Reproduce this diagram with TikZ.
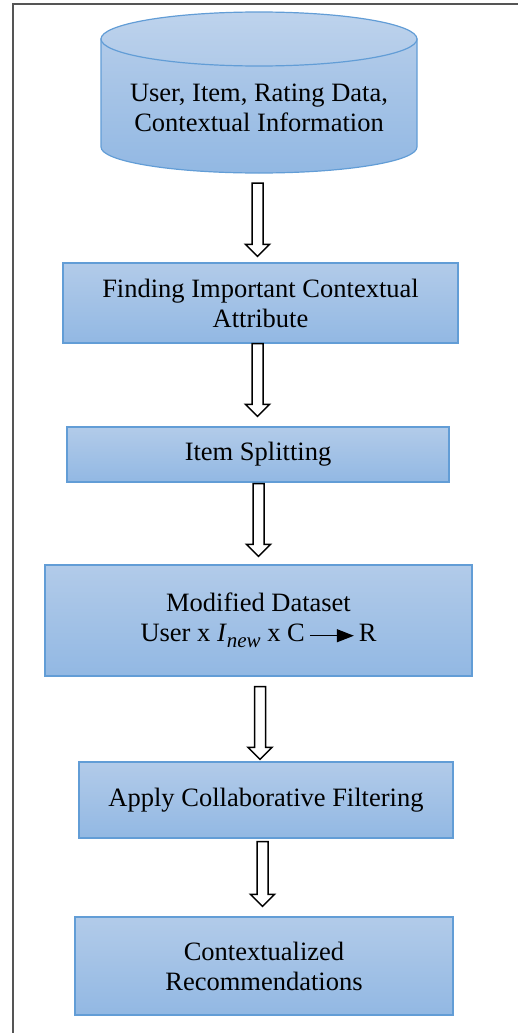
\documentclass[tikz,border=0pt]{standalone}
\usepackage{fontspec}
\setmainfont{Liberation Serif}
\usetikzlibrary{calc,arrows.meta}
\definecolor{bordercol}{RGB}{98,157,214}
\definecolor{filltop}{RGB}{178,203,233}
\definecolor{fillbot}{RGB}{146,184,227}
\definecolor{framecol}{RGB}{85,85,85}
\tikzset{
  proc/.style={draw=bordercol, line width=1.2pt, top color=filltop, bottom color=fillbot,
    align=center, inner sep=0pt, font=\fontsize{26.5}{30}\selectfont},
  blockarr/.style={draw=black, line width=1.5pt, fill=white, line join=miter},
  labeltext/.style={align=center, inner sep=0pt, font=\fontsize{26.5}{30}\selectfont}
}
\newcommand{\blockarrow}[2]{%
  \draw[blockarr] let \p1=(#1), \p2=(#2) in
    (\x1-5.5pt,\y1) -- (\x1+5.5pt,\y1) -- (\x1+5.5pt,\y2+12pt) -- (\x1+12pt,\y2+12pt)
    -- (\x1,\y2) -- (\x1-12pt,\y2+12pt) -- (\x1-5.5pt,\y2+12pt) -- cycle;}
\begin{document}
\begin{tikzpicture}[x=1pt,y=1pt]
\useasboundingbox (0,0) rectangle (518,-1033);
% frame
\draw[framecol, line width=2pt] (13,-1040) -- (13,-4) -- (525,-4);
% cylinder
\draw[bordercol, line width=1.2pt, top color=filltop, bottom color=fillbot]
  (101,-39) -- (101,-147) arc[start angle=180, end angle=360, x radius=158, y radius=26]
  -- (417,-39) -- cycle;
\draw[bordercol, line width=1.2pt, top color=filltop!85!white, bottom color=filltop!95!fillbot]
  (259,-39) ellipse[x radius=158, y radius=27];
\node[labeltext] (db) at (259,-108) {User, Item, Rating Data,\\Contextual Information};
\coordinate (dbbot) at (259,-173);
% process boxes
\node[proc, minimum width=395pt, minimum height=80pt] (n2) at (260.5,-303)
  {Finding Important Contextual\\Attribute};
\node[proc, minimum width=382pt, minimum height=55pt] (n3) at (258,-454.5) {Item Splitting};
\node[proc, minimum width=427pt, minimum height=111pt] (n4) at (258.5,-620.5)
  {Modified Dataset\\User x \textit{I\kern1pt}\raisebox{-6pt}{\fontsize{21}{21}\selectfont\itshape new} x C\,\tikz[baseline=-6pt]\draw[line width=1.1pt,-{Triangle[length=17pt,width=13pt]}] (0pt,0pt) -- (44pt,0pt);\,R};
\node[proc, minimum width=374pt, minimum height=76pt] (n5) at (266,-800) {Apply Collaborative Filtering};
\node[proc, minimum width=378pt, minimum height=98pt] (n6) at (264,-966) {Contextualized\\Recommendations};
% block arrows
\blockarrow{[shift={(-1.5,-10)}]dbbot}{[yshift=6pt]n2.north}
\blockarrow{[xshift=-3pt]n2.south}{[yshift=10pt]n3.north}
\blockarrow{[shift={(0.5,-1)}]n3.south}{[yshift=8pt]n4.north}
\blockarrow{[shift={(1.5,-10)}]n4.south}{[yshift=2pt]n5.north}
\blockarrow{[shift={(-3.5,-3)}]n5.south}{[yshift=10pt]n6.north}
\end{tikzpicture}
\end{document}
